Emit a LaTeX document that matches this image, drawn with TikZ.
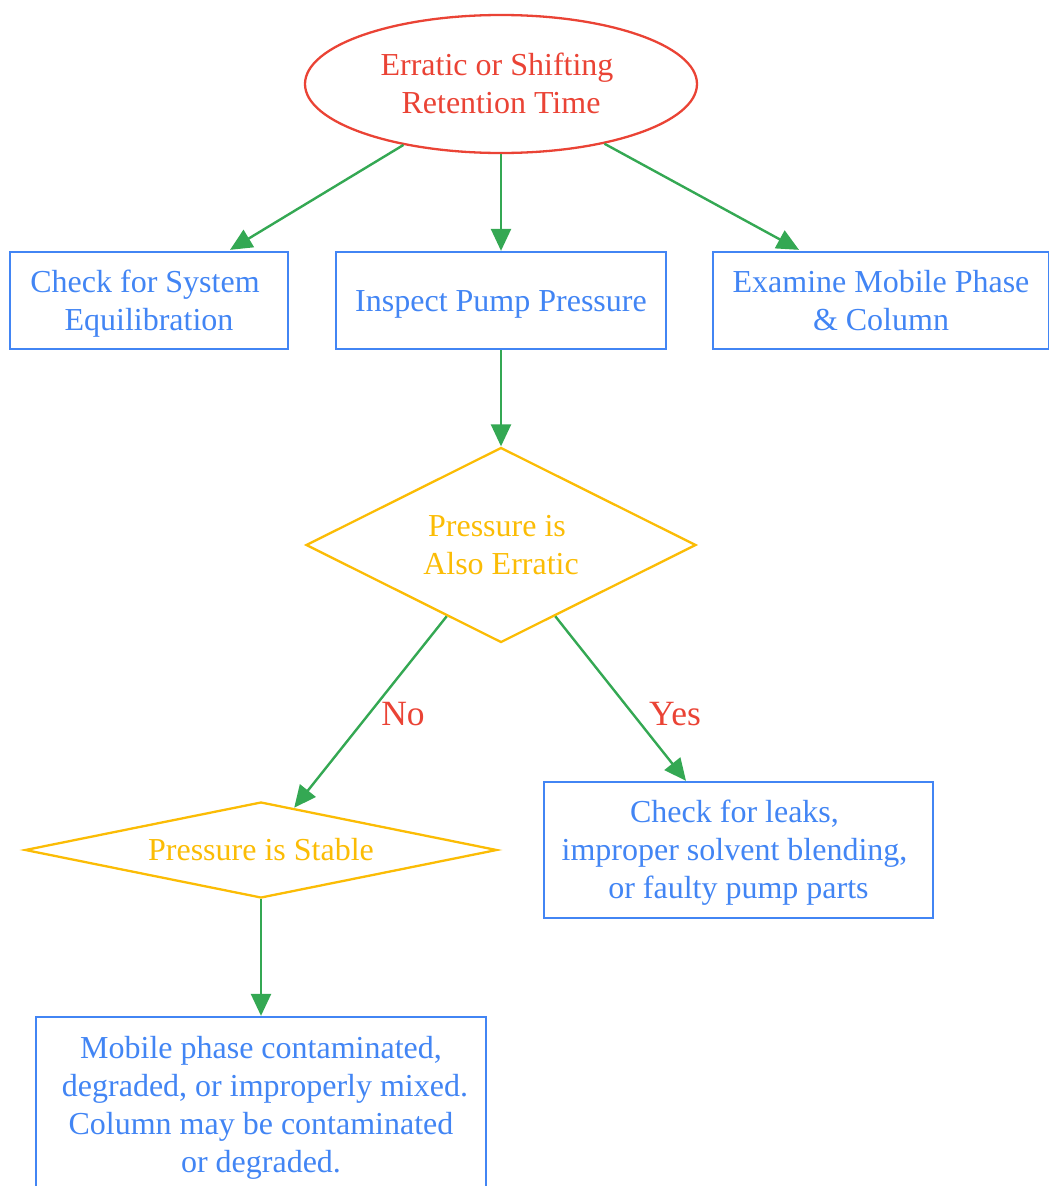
\documentclass[tikz,border=0pt]{standalone}
\usepackage{fontspec}
\setmainfont{Liberation Serif}
\usetikzlibrary{shapes.geometric,arrows.meta,calc}
\definecolor{gred}{HTML}{EA4335}
\definecolor{gblue}{HTML}{4285F4}
\definecolor{gyellow}{HTML}{FBBC05}
\definecolor{ggreen}{HTML}{34A853}
\newcommand\lstrut{\rule[-8.2pt]{0pt}{38pt}}
\newcommand\tsp{\kern8pt}
\tikzset{
  txt/.style={font=\fontsize{32}{38}\selectfont, align=center, inner sep=0pt},
  box/.style={txt, draw=gblue, text=gblue, line width=2.3pt, rectangle},
  oval/.style={txt, draw=gred, text=gred, line width=2.3pt, ellipse},
  dec/.style={txt, draw=gyellow, text=gyellow, line width=2.3pt, diamond},
  arr/.style={draw=ggreen, line width=2.4pt, -{Triangle[length=22pt,width=20pt]}},
  lbl/.style={font=\fontsize{35.5}{40}\selectfont, text=gred, inner sep=0pt}
}
\begin{document}
\begin{tikzpicture}[x=1pt,y=-1pt]
\useasboundingbox (0,0) rectangle (1049,1186);
\clip (0,0) rectangle (1049,1186);
\node[oval, minimum width=392pt, minimum height=138pt] (e) at (501,84) {\lstrut Erratic or Shifting\tsp\\\lstrut Retention Time};
\node[box, minimum width=278pt, minimum height=97pt] (b1) at (149,300.5) {\lstrut Check for System\tsp\\\lstrut Equilibration};
\node[box, minimum width=330pt, minimum height=97pt] (b2) at (501,300.5) {\lstrut Inspect Pump Pressure};
\node[box, minimum width=336pt, minimum height=97pt] (b3) at (881,300.5) {\lstrut Examine Mobile Phase\\\lstrut \& Column};
\node[dec, aspect=2, minimum width=390pt, minimum height=195pt] (d1) at (501,545) {\lstrut Pressure is\tsp\\\lstrut Also Erratic};
\node[dec, aspect=4.9, minimum width=472pt, minimum height=96pt] (d2) at (261,850) {\lstrut Pressure is Stable};
\node[box, minimum width=389pt, minimum height=136pt] (y) at (738.5,850) {\lstrut Check for leaks,\tsp\\\lstrut improper solvent blending,\tsp\\\lstrut or faulty pump parts};
\node[box, minimum width=450pt, minimum height=176pt] (m) at (261,1105) {\lstrut Mobile phase contaminated,\\\lstrut\tsp degraded, or improperly mixed.\\\lstrut Column may be contaminated\\\lstrut or degraded.};
\node[lbl] (no) at (403,714) {No};
\node[lbl] (yes) at (675,714) {Yes};
\draw[arr] (e.212.6) -- ($(b1.north)+(81,-1)$);
\draw[arr] (e.south) -- (b2.north);
\draw[arr] (e.330) -- ($(b3.north)+(-82,-1)$);
\draw[arr] (b2.south) -- (d1.north);
\draw[arr] ($(d1.west)!0.723!(d1.south)$) -- ($(d2.north)!0.14!(d2.east)$);
\draw[arr] ($(d1.east)!0.723!(d1.south)$) -- ($(y.north)+(-52.5,0)$);
\draw[arr] (d2.south) -- (m.north);
\end{tikzpicture}
\end{document}
